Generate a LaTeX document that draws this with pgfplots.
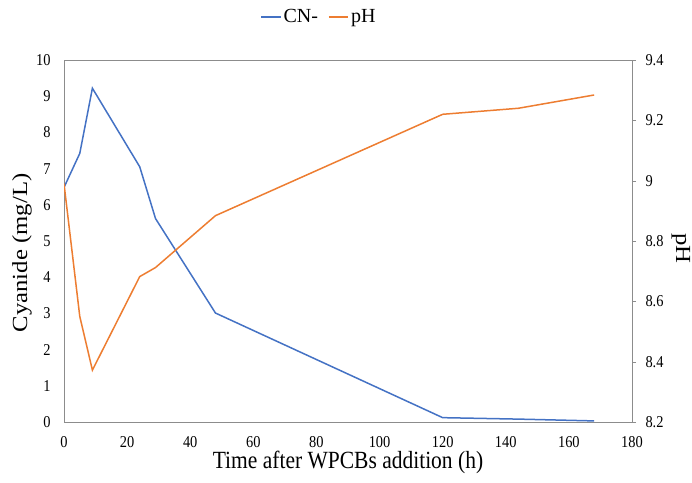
\documentclass[border=0pt]{standalone}
\usepackage{graphicx}
\usepackage{pgfplots}
\pgfplotsset{compat=1.18}
\usepackage{fontspec}
\setmainfont{Liberation Serif}
\definecolor{cnblue}{HTML}{4472C4}
\definecolor{phorange}{HTML}{ED7D31}
\definecolor{axgray}{HTML}{8C8C8C}
\newcommand{\tl}[1]{\scalebox{1}[1.15]{#1}}
\newcommand{\lf}{\fontsize{20}{20}\selectfont}
\begin{document}
\begin{tikzpicture}
\useasboundingbox (-64pt,-60pt) rectangle (628pt,422pt);
\begin{axis}[
  at={(0,0)}, anchor=south west,
  scale only axis, width=568pt, height=362pt,
  xmin=0, xmax=180, ymin=0, ymax=10,
  xtick={0,20,...,180}, ytick={0,1,...,10},
  xticklabels={\tl{0},\tl{20},\tl{40},\tl{60},\tl{80},\tl{100},\tl{120},\tl{140},\tl{160},\tl{180}},
  yticklabels={\tl{0},\tl{1},\tl{2},\tl{3},\tl{4},\tl{5},\tl{6},\tl{7},\tl{8},\tl{9},\tl{10}},
  ytick pos=left, xtick pos=bottom,
  major tick length=0pt,
  axis line style={axgray},
  tick label style={font=\fontsize{14.4}{14.4}\selectfont, black},
  xticklabel style={inner sep=1pt},
  xticklabel shift=13pt,
  yticklabel shift=10pt,
  xlabel={\scalebox{1}[1.15]{Time after WPCBs addition (h)}},
  ylabel={\scalebox{1.15}[1]{Cyanide (mg/L)}},
  every axis x label/.style={at={(axis description cs:0.5,-0.113)}, anchor=center, inner sep=0pt, font=\fontsize{21.5}{21.5}\selectfont},
  every axis y label/.style={at={(axis description cs:-0.074,0.467)}, rotate=90, anchor=center, font=\fontsize{21.5}{21.5}\selectfont},
]
\addplot[cnblue, line width=1.5pt, mark=none] coordinates {
(0,6.48) (5,7.42) (9,9.22) (24,7.05) (29,5.62) (48,3.01) (120,0.12) (144,0.08) (168,0.03)};
\end{axis}
\begin{axis}[
  at={(0,0)}, anchor=south west,
  scale only axis, width=568pt, height=362pt,
  xmin=0, xmax=180, ymin=8.2, ymax=9.4,
  axis x line=none,
  axis y line*=right,
  ytick={8.2,8.4,...,9.4},
  yticklabels={\tl{8.2},\tl{8.4},\tl{8.6},\tl{8.8},\tl{9},\tl{9.2},\tl{9.4}},
  tick align=outside, major tick length=4pt,
  axis line style={axgray, -}, tick style={axgray},
  tick label style={font=\fontsize{14.4}{14.4}\selectfont, black},
  yticklabel style={anchor=west},
  yticklabel shift=6pt,
  ylabel={\scalebox{1.15}[1]{pH}},
  every axis y label/.style={at={(axis description cs:1.086,0.48)}, rotate=-90, anchor=center, font=\fontsize{21.5}{21.5}\selectfont},
  legend style={at={(axis description cs:0.449,1.119)}, anchor=center, draw=none,
    legend columns=2, font=\lf,
    /tikz/every even column/.append style={column sep=8pt}},
  legend image post style={xscale=1.15},
  legend cell align=left,
]
\addlegendimage{cnblue, line width=1.5pt}
\addlegendentry{\lf CN-}
\addplot[phorange, line width=1.5pt, mark=none] coordinates {
(0,8.99) (5,8.55) (9,8.372) (24,8.682) (29,8.712) (48,8.884) (120,9.22) (144,9.24) (168,9.284)};
\addlegendentry{\lf pH}
\end{axis}
\end{tikzpicture}
\end{document}
